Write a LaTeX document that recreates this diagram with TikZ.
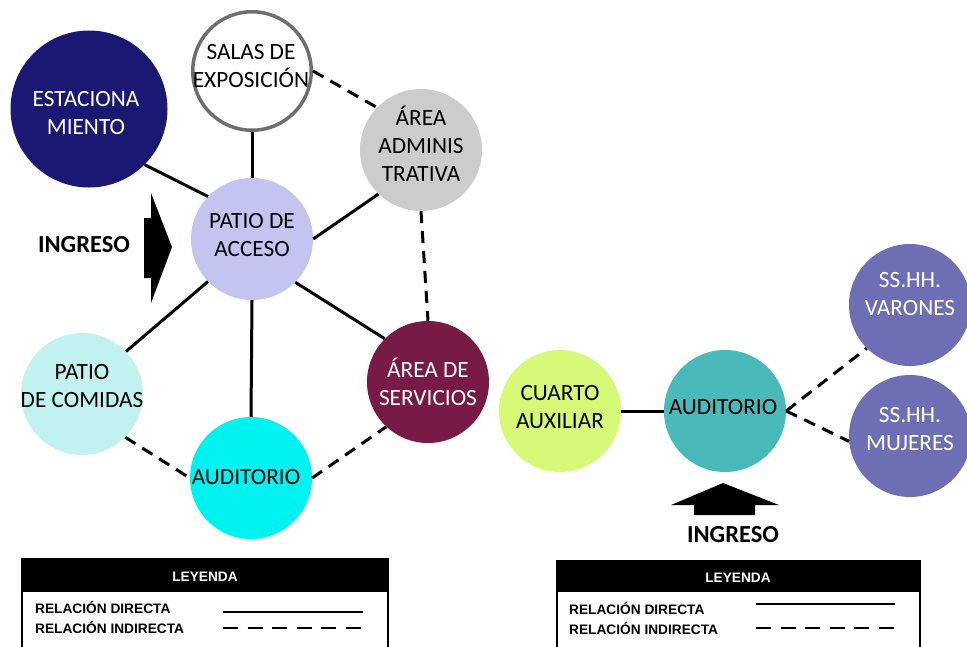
\documentclass[tikz,border=0pt]{standalone}
\usepackage{fontspec}
\setmainfont{Carlito}
\newfontfamily\legfont{Liberation Sans}
\definecolor{cEst}{RGB}{26,24,114}
\definecolor{cAdm}{RGB}{204,204,204}
\definecolor{cAcc}{RGB}{196,196,240}
\definecolor{cCom}{RGB}{194,242,240}
\definecolor{cAud}{RGB}{0,242,240}
\definecolor{cSer}{RGB}{120,26,70}
\definecolor{cCua}{RGB}{214,250,120}
\definecolor{cAudB}{RGB}{74,185,185}
\definecolor{cSSHH}{RGB}{110,110,180}
\definecolor{cSal}{RGB}{110,110,110}
\begin{document}
\begin{tikzpicture}[x=1pt,y=-1pt,
  area/.style={circle, inner sep=0pt, minimum size=122pt},
  lab/.style={inner sep=0pt, align=center, font=\fontsize{23.3}{28}\selectfont},
  dir/.style={line width=3pt, black},
  ind/.style={line width=3pt, black, dash pattern=on 12pt off 8pt},
  ingtxt/.style={font=\bfseries\fontsize{24.5}{28}\selectfont, inner sep=0pt},
  legtxt/.style={font=\legfont\bfseries\fontsize{13.7}{16}\selectfont, inner sep=0pt},
  legdir/.style={line width=2pt, black},
  legind/.style={line width=2pt, black, dash pattern=on 15pt off 9.5pt},
  arrowshape/.style={fill=black, draw=none}]
\useasboundingbox (0,0) rectangle (967,646);
\begin{scope}
\clip (0,0) rectangle (967,646);
% areas
\node[area, minimum size=157pt, fill=cEst] (est) at (89,109) {};
\node[area, minimum size=118.5pt, draw=cSal, line width=3.5pt, fill=white] (sal) at (252,71) {};
\node[area, fill=cAdm] (adm) at (421,150) {};
\node[area, fill=cAcc] (acc) at (252,239) {};
\node[area, fill=cCom] (com) at (82,394) {};
\node[area, fill=cAud] (aud) at (251,478) {};
\node[area, fill=cSer] (ser) at (428,382) {};
\node[area, fill=cCua] (cua) at (560,411) {};
\node[area, fill=cAudB] (audb) at (725,411) {};
\node[area, fill=cSSHH] (var) at (910,305) {};
\node[area, fill=cSSHH] (muj) at (910,436) {};
% labels
\node[lab, text=white] (estT) at ([shift={(-3,4)}]est.center) {ESTACIONA\\MIENTO};
\node[lab] (salT) at ([shift={(-1,-5)}]sal.center) {SALAS DE\\EXPOSICIÓN};
\node[lab] (admT) at ([shift={(0,-6)}]adm.center) {ÁREA\\ADMINIS\\TRATIVA};
\node[lab] (accT) at ([shift={(0,-3.5)}]acc.center) {PATIO DE\\ACCESO};
\node[lab] (comT) at ([shift={(0,-8)}]com.center) {PATIO\\DE COMIDAS};
\node[lab] (audT) at ([shift={(-5,-1)}]aud.center) {AUDITORIO};
\node[lab, text=white] (serT) at ([shift={(0,0)}]ser.center) {ÁREA DE\\SERVICIOS};
\node[lab] (cuaT) at ([shift={(0,-3.5)}]cua.center) {CUARTO\\AUXILIAR};
\node[lab] (audbT) at ([shift={(-2,-4)}]audb.center) {AUDITORIO};
\node[lab, text=white] (varT) at ([shift={(0,-10.5)}]var.center) {SS.HH.\\VARONES};
\node[lab, text=white] (mujT) at ([shift={(0,-7)}]muj.center) {SS.HH.\\MUJERES};
% connectors
\draw[dir] (est.-45) -- (acc.136);
\draw[dir] (sal.south) -- (acc.north);
\draw[dir] (acc.east) -- (adm.-134);
\draw[ind] (sal.east) -- (adm.136);
\draw[ind] (adm.south) -- (ser.north);
\draw[dir] (acc.-136) -- (com.44);
\draw[dir] (acc.south) -- (aud.north);
\draw[dir] (acc.-45) -- (ser.135);
\draw[ind] (com.-45) -- (aud.west);
\draw[ind] (aud.east) -- (ser.-133);
\draw[dir] (cua.east) -- (audb.west);
\draw[ind] (audb.east) -- (var.-135);
\draw[ind] (audb.east) -- (muj.-175);
% ingreso arrows
\node[ingtxt] (ing1) at (84,245) {INGRESO};
\fill[arrowshape] (144,218) -- (151,218) -- (151,193) -- (172,247) -- (151,303) -- (151,278) -- (144,278) -- cycle;
\node[ingtxt] (ing2) at (733,535) {INGRESO};
\fill[arrowshape] (694,515) -- (694,505) -- (671,505) -- (723,483) -- (779,505) -- (755,505) -- (755,515) -- cycle;
% legend left
\fill[black] (22,559) rectangle (388,592);
\draw[line width=2pt] (22,650) -- (22,559) -- (388,559) -- (388,650);
\node[legtxt, text=white] (ley1) at (205,577) {LEYENDA};
\node[legtxt, anchor=west] (rd1) at (35,607) {RELACIÓN DIRECTA};
\node[legtxt, anchor=west] (ri1) at (35,627) {RELACIÓN INDIRECTA};
\draw[legdir] (223,612) -- (363,612);
\draw[legind] (223,628) -- (363,628);
% legend right
\fill[black] (557,561) rectangle (920,592);
\draw[line width=2pt] (557,650) -- (557,561) -- (920,561) -- (920,650);
\node[legtxt, text=white] (ley2) at (738,578) {LEYENDA};
\node[legtxt, anchor=west] (rd2) at (569,608) {RELACIÓN DIRECTA};
\node[legtxt, anchor=west] (ri2) at (569,628) {RELACIÓN INDIRECTA};
\draw[legdir] (756,604) -- (895,604);
\draw[legind] (756,628) -- (895,628);
\end{scope}
\end{tikzpicture}
\end{document}
